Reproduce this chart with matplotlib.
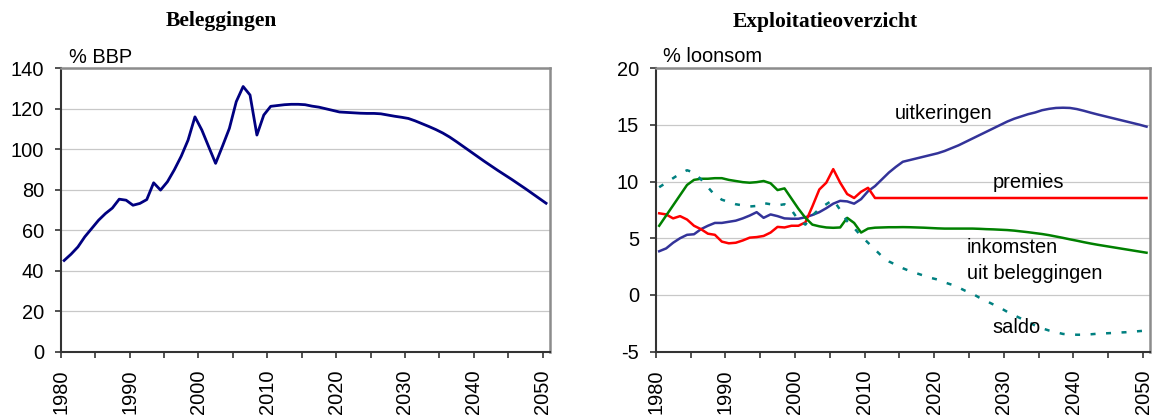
import numpy as np
import matplotlib
matplotlib.use("Agg")
import matplotlib.pyplot as plt

plt.rcParams['font.family'] = ['Liberation Sans', 'DejaVu Sans']
plt.rcParams['axes.unicode_minus'] = False

# Years 1980-2050 (one category per year)
years = np.arange(1980, 2051)

# Beleggingen, % BBP
beleggingen = [
    45.0, 48.1, 51.7, 56.7, 60.8, 64.9, 68.2, 70.9, 75.3, 74.8,
    72.3, 73.2, 75.1, 83.4, 79.8, 83.9, 89.8, 96.5, 104.5, 116.0,
    109.5, 101.2, 93.0, 101.5, 110.3, 123.5, 131.0, 126.8, 107.0, 116.9,
    121.2, 121.6, 122.0, 122.2, 122.2, 122.0, 121.3, 120.8, 120.0, 119.2,
    118.4, 118.2, 118.0, 117.8, 117.7, 117.7, 117.5, 116.9, 116.3, 115.8,
    115.2, 114.0, 112.6, 111.2, 109.7, 108.0, 106.0, 103.7, 101.3, 98.9,
    96.5, 94.1, 91.8, 89.5, 87.3, 85.1, 82.8, 80.5, 78.1, 75.7,
    73.3,
]

# Exploitatieoverzicht, % loonsom
uitkeringen = [
    3.85, 4.1, 4.6, 5.0, 5.3, 5.35, 5.8, 6.1, 6.35, 6.35,
    6.45, 6.55, 6.75, 7.0, 7.3, 6.8, 7.1, 6.95, 6.75, 6.72,
    6.72, 6.85, 7.05, 7.3, 7.65, 8.05, 8.3, 8.25, 8.05, 8.45,
    9.15, 9.6, 10.2, 10.8, 11.3, 11.75, 11.9, 12.05, 12.2, 12.35,
    12.5, 12.7, 12.95, 13.2, 13.5, 13.8, 14.1, 14.4, 14.7, 15.0,
    15.3, 15.55, 15.75, 15.95, 16.1, 16.3, 16.42, 16.5, 16.52, 16.5,
    16.4, 16.25, 16.08, 15.92, 15.77, 15.62, 15.47, 15.32, 15.17, 15.02,
    14.85,
]
premies = [
    7.2, 7.1, 6.75, 6.95, 6.65, 6.1, 5.8, 5.4, 5.3, 4.7,
    4.55, 4.6, 4.8, 5.05, 5.1, 5.2, 5.5, 6.0, 5.95, 6.1,
    6.1, 6.4, 7.8, 9.3, 9.9, 11.1, 9.9, 8.9, 8.55, 9.1,
    9.45, 8.55, 8.55, 8.55, 8.55, 8.55, 8.55, 8.55, 8.55, 8.55,
    8.55, 8.55, 8.55, 8.55, 8.55, 8.55, 8.55, 8.55, 8.55, 8.55,
    8.55, 8.55, 8.55, 8.55, 8.55, 8.55, 8.55, 8.55, 8.55, 8.55,
    8.55, 8.55, 8.55, 8.55, 8.55, 8.55, 8.55, 8.55, 8.55, 8.55,
    8.55,
]
inkomsten = [
    6.1, 7.0, 7.9, 8.8, 9.7, 10.15, 10.25, 10.25, 10.3, 10.3,
    10.15, 10.05, 9.95, 9.9, 9.95, 10.05, 9.85, 9.25, 9.4, 8.5,
    7.6, 6.8, 6.2, 6.05, 5.95, 5.92, 5.95, 6.8, 6.35, 5.5,
    5.85, 5.93, 5.95, 5.97, 5.97, 5.98, 5.97, 5.95, 5.93, 5.9,
    5.87, 5.85, 5.85, 5.85, 5.85, 5.85, 5.83, 5.8, 5.78, 5.75,
    5.72, 5.67, 5.6, 5.53, 5.45, 5.37, 5.27, 5.15, 5.03, 4.9,
    4.78, 4.65, 4.53, 4.42, 4.32, 4.22, 4.12, 4.02, 3.92, 3.82,
    3.72,
]
saldo = [
    9.5, 9.9, 10.3, 10.7, 11.0, 10.8, 10.2, 9.5, 8.8, 8.4,
    8.2, 8.0, 7.9, 7.8, 7.85, 8.1, 8.0, 7.9, 8.0, 7.5,
    6.6, 6.2, 7.0, 7.6, 8.0, 8.4, 7.5, 6.5, 5.9, 5.2,
    4.6, 4.0, 3.4, 2.95, 2.65, 2.35, 2.1, 1.9, 1.7, 1.5,
    1.35, 1.1, 0.9, 0.65, 0.35, 0.1, -0.25, -0.55, -0.85, -1.15,
    -1.5, -1.8, -2.1, -2.4, -2.7, -2.95, -3.15, -3.3, -3.45, -3.5,
    -3.52, -3.52, -3.48, -3.43, -3.4, -3.37, -3.33, -3.3, -3.25, -3.2,
    -3.15,
]

W, H = 1158, 415
fig = plt.figure(figsize=(W / 100, H / 100), dpi=100)

FS = 14.4
TITLE_FONT = dict(family=['Liberation Serif', 'DejaVu Serif'], weight='bold', size=15.5)


def style_axes(ax, ylim, yticks):
    ax.set_xlim(1979.5, 2050.5)
    ax.set_ylim(*ylim)
    ax.set_yticks(yticks)
    xt = np.arange(1979.5, 2050, 5)
    ax.set_xticks(xt)
    ax.set_xticklabels([str(int(t + 0.5)) if (t + 0.5) % 10 == 0 else '' for t in xt],
                       rotation=90, fontsize=FS)
    ax.tick_params(axis='x', length=4, width=1.2, color='#333333', pad=9)
    ax.tick_params(axis='y', length=4, width=1.2, color='#333333', pad=8, labelsize=FS)
    ax.grid(axis='y', color='#c8c8c8', linewidth=0.9)
    ax.set_axisbelow(True)
    for side in ['left', 'bottom']:
        ax.spines[side].set_color('#333333')
        ax.spines[side].set_linewidth(1.5)
    for side in ['top', 'right']:
        ax.spines[side].set_color('#8c8c8c')
        ax.spines[side].set_linewidth(1.8)


# Left panel: Beleggingen
ax1 = fig.add_axes([60.7 / W, 1 - 351.5 / H, 488.8 / W, 283.2 / H])
ax1.plot(years, beleggingen, color='#000080', linewidth=2.0)
style_axes(ax1, (0, 140), np.arange(0, 141, 20))
fig.text(221 / W, 1 - 26 / H, 'Beleggingen', ha='center', va='baseline', **TITLE_FONT)
fig.text(69 / W, 1 - 63 / H, '% BBP', ha='left', va='baseline', fontsize=FS)

# Right panel: Exploitatieoverzicht
ax2 = fig.add_axes([655.7 / W, 1 - 351.5 / H, 494.3 / W, 283.2 / H])
ax2.plot(years, uitkeringen, color='#333399', linewidth=1.8)
ax2.plot(years, premies, color='#ff0000', linewidth=1.8)
ax2.plot(years, inkomsten, color='#008000', linewidth=1.8)
ax2.plot(years, saldo, color='#008080', linewidth=1.8, linestyle=(0, (2.0, 4.2)))
style_axes(ax2, (-5, 20), np.arange(-5, 21, 5))
fig.text(825 / W, 1 - 26.7 / H, 'Exploitatieoverzicht', ha='center', va='baseline', **TITLE_FONT)
fig.text(663 / W, 1 - 62 / H, '% loonsom', ha='left', va='baseline', fontsize=FS)

ax2.text(2013.9, 15.52, 'uitkeringen', fontsize=FS, ha='left', va='baseline')
ax2.text(2027.9, 9.4, 'premies', fontsize=FS, ha='left', va='baseline')
ax2.text(2024.2, 3.73, 'inkomsten', fontsize=FS, ha='left', va='baseline')
ax2.text(2024.2, 1.37, 'uit beleggingen', fontsize=FS, ha='left', va='baseline')
ax2.text(2027.8, -3.38, 'saldo', fontsize=FS, ha='left', va='baseline')

fig.savefig('out.png', dpi=100)
